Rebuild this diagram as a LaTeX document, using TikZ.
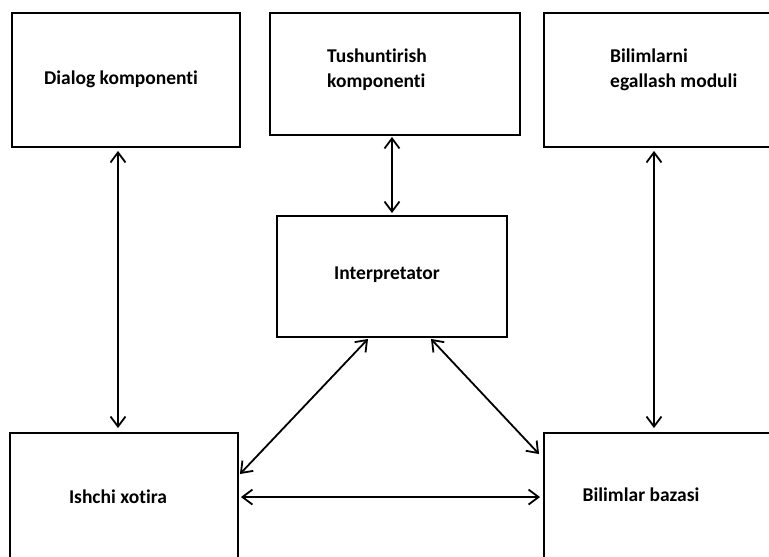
\documentclass[tikz,border=0pt]{standalone}
\usepackage{fontspec}
\setmainfont[Ligatures=NoCommon]{Carlito}
\usetikzlibrary{arrows.meta}
\begin{document}
\begin{tikzpicture}[x=1pt,y=-1pt,
  box/.style={draw,line width=1.9pt,rectangle,inner sep=0pt},
  txt/.style={font=\bfseries\fontsize{19.5}{25}\selectfont,inner sep=0pt,align=left},
  arr/.style={line width=1.8pt,{Straight Barb[length=10pt,width=15pt,line width=1.8pt]}-{Straight Barb[length=10pt,width=15pt,line width=1.8pt]}}]
\clip (0,0) rectangle (769,557);
\fill[white] (0,0) rectangle (769,557);
% boxes (centre, size)
\node[box,minimum width=228pt,minimum height=134pt] (dialog) at (126,80) {};
\node[box,minimum width=250pt,minimum height=122pt] (tush) at (395,74) {};
\node[box,minimum width=240pt,minimum height=134pt] (bil) at (664,80) {};
\node[box,minimum width=230pt,minimum height=121pt] (interp) at (392,276.5) {};
\node[box,minimum width=228pt,minimum height=180pt] (ishchi) at (124,523) {};
\node[box,minimum width=240pt,minimum height=180pt] (baza) at (664,523) {};
% texts
\node[txt] (t1) at (121,79) {Dialog komponenti};
\node[txt,anchor=west] (t2) at (327,70) {Tushuntirish\\komponenti};
\node[txt,anchor=west] (t3) at (610,70) {Bilimlarni\\egallash moduli};
\node[txt] (t4) at (387,275) {Interpretator};
\node[txt] (t5) at (118,497) {Ishchi xotira};
\node[txt] (t6) at (641,495) {Bilimlar bazasi};
% connectors
\draw[arr] ([xshift=-8pt,yshift=-3pt]dialog.south) -- ([xshift=-6pt,yshift=4pt]ishchi.north);
\draw[arr] ([xshift=-3pt,yshift=-1pt]tush.south) -- ([yshift=2pt]interp.north);
\draw[arr] ([xshift=-10pt,yshift=-3pt]bil.south) -- ([xshift=-10pt,yshift=4pt]baza.north);
\draw[arr] ([xshift=-24pt,yshift=-1pt]interp.south) -- ([xshift=1pt,yshift=-42pt]ishchi.north east);
\draw[arr] ([xshift=39pt,yshift=-1pt]interp.south) -- ([xshift=-4pt,yshift=-22pt]baza.north west);
\draw[arr] ([xshift=2pt,yshift=-65pt]ishchi.north east) -- ([xshift=-3pt,yshift=-65pt]baza.north west);
\end{tikzpicture}
\end{document}
